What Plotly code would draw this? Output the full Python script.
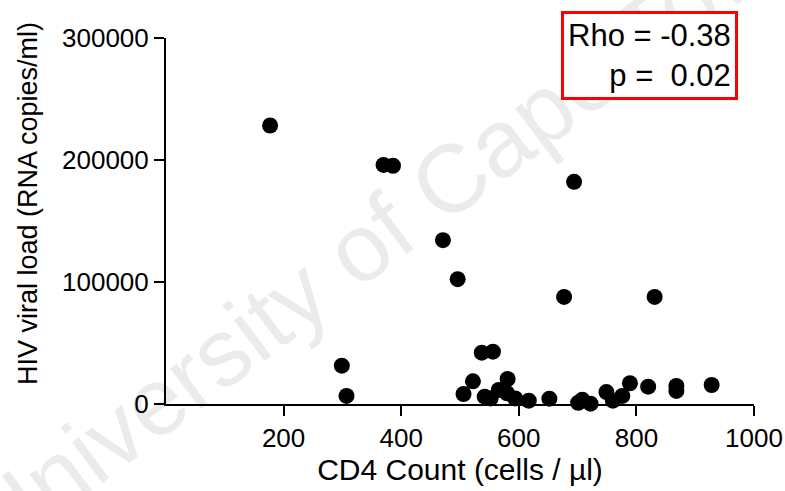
import plotly.graph_objects as go

# CD4 count (cells/ul) and HIV viral load (RNA copies/ml) per participant
cd4_count = [177, 370, 386, 471, 496, 694, 677, 831,
             299, 307, 537, 556, 522, 506, 581, 542, 552, 566, 580, 594,
             617, 652, 708, 722, 701, 749, 760, 776, 789, 820, 868, 868, 928]
viral_load = [228300, 196000, 195300, 134300, 102300, 182100, 87800, 87800,
              31400, 6600, 42100, 42900, 18600, 8200, 20500, 6000, 4600, 11500, 8800, 4600,
              2700, 4400, 3500, 300, 1000, 9800, 2700, 6600, 17000, 14200, 14800, 10700, 15600]

x_ticks = [200, 400, 600, 800, 1000]
y_ticks = [0, 100000, 200000, 300000]
y_tick_labels = ["0", "100000", "200000", "300000"]

rho_text = "Rho = -0.38<br>p = &nbsp;0.02"

FONT = "Liberation Sans, Arial, sans-serif"

fig = go.Figure()
fig.add_trace(go.Scatter(
    x=cd4_count, y=viral_load, mode="markers",
    marker=dict(size=16, color="black"),
    cliponaxis=False, showlegend=False,
))

axis_common = dict(
    showline=True, linecolor="black", linewidth=2,
    ticks="outside", ticklen=10, tickwidth=2, tickcolor="black",
    showgrid=False, zeroline=False, automargin=False,
    tickfont=dict(family=FONT, size=26, color="black"),
)

fig.update_layout(
    width=785, height=491,
    margin=dict(l=166, r=31, t=38, b=87),
    paper_bgcolor="white", plot_bgcolor="white",
    xaxis=dict(range=[0, 1000], tickvals=x_ticks,
               title=dict(text="CD4 Count (cells / µl)", standoff=0,
                          font=dict(family=FONT, size=30, color="black")),
               **axis_common),
    yaxis=dict(range=[0, 300000], tickvals=y_ticks, ticktext=y_tick_labels,
               **axis_common),
    annotations=[
        # faint institutional watermark across the page
        dict(text="University of Cape Town", xref="paper", yref="paper",
             x=(391 - 166) / 588, y=(404 - 223) / 366,
             xanchor="center", yanchor="middle", textangle=-37, showarrow=False,
             font=dict(family=FONT, size=96, color="rgba(0,0,0,0.08)")),
        # y-axis title, placed in page pixels
        dict(text="HIV viral load (RNA copies/ml)", xref="paper", yref="paper",
             x=(28 - 166) / 588, y=(404 - 204) / 366,
             xanchor="center", yanchor="middle", textangle=-90, showarrow=False,
             font=dict(family=FONT, size=27, color="black")),
        # correlation statistics box
        dict(text=rho_text, xref="paper", yref="paper",
             x=(738 - 166) / 588, y=(404 - 11) / 366,
             xanchor="right", yanchor="top", align="right", showarrow=False,
             bgcolor="white", bordercolor="red", borderwidth=3, borderpad=4,
             font=dict(family=FONT, size=31, color="black")),
    ],
)

fig.write_html("out.html")
